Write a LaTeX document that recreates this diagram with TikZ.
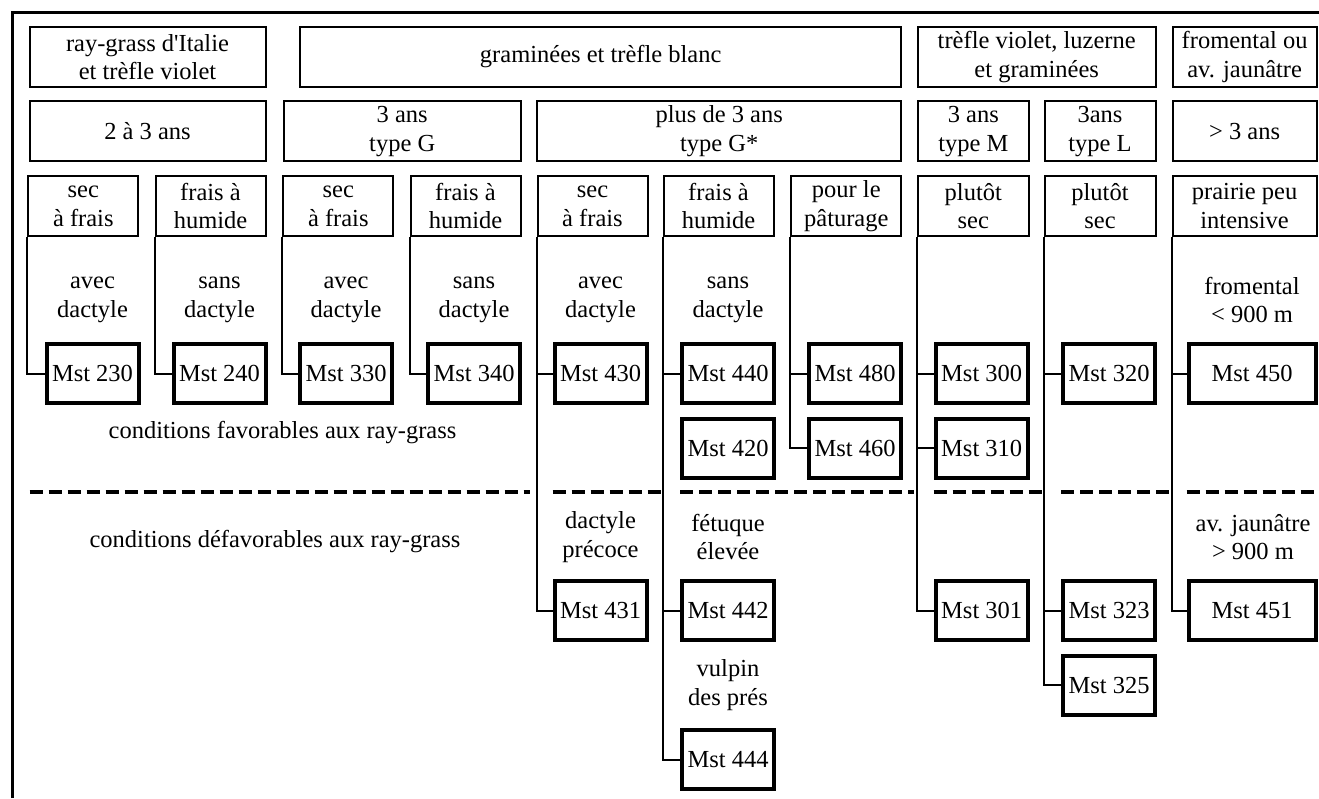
\documentclass[tikz,border=0pt]{standalone}
\usepackage{fontspec}
\setmainfont{Liberation Serif}
\begin{document}
\begin{tikzpicture}[x=1pt,y=-1pt,
  every node/.style={font=\fontsize{24.5}{28.5}\selectfont,align=center,inner sep=0pt},
  cat/.style={draw,line width=2pt,minimum height=60pt},
  sub/.style={cat,minimum width=110pt},
  mst/.style={draw,line width=4pt,minimum width=92pt,minimum height=59pt},
  link/.style={line width=2pt},
  cut/.style={line width=4pt,dash pattern=on 13pt off 6pt}]
\useasboundingbox (0,0) rectangle (1319,798);
\draw[line width=2.5pt] (12.5,798) -- (12.5,12.5) -- (1319,12.5);
\node[cat,minimum width=236pt] (rg) at (147.5,57) {ray-grass d\textquotesingle Italie\\et trèfle violet};
\node[cat,minimum width=601pt] (gt) at (600.7,57) {graminées et trèfle blanc};
\node[cat,minimum width=238pt] (tv) at (1036.7,57) {trèfle violet, luzerne\\et graminées};
\node[cat,minimum width=144pt] (fo) at (1244.6,57) {fromental ou\\av. jaunâtre};
\node[cat,minimum width=236pt] (a2) at (147.5,131.3) {2 à 3 ans};
\node[cat,minimum width=237pt] (a3) at (402.2,131.3) {3 ans\\type G};
\node[cat,minimum width=364pt] (a4) at (719.2,131.3) {plus de 3 ans\\type G*};
\node[cat,minimum width=111pt] (am) at (973.3,131.3) {3 ans\\type M};
\node[cat,minimum width=111pt] (al) at (1100,131.3) {3ans\\type L};
\node[cat,minimum width=144pt] (a5) at (1244.6,131.3) {> 3 ans};
\node[sub] (s1) at (83.3,206.2) {sec\\à frais};
\node[sub] (h1) at (210.5,206.2) {frais à\\humide};
\node[sub] (s2) at (338.3,206.2) {sec\\à frais};
\node[sub] (h2) at (465.5,206.2) {frais à\\humide};
\node[sub] (s3) at (592.5,206.2) {sec\\à frais};
\node[sub] (h3) at (718.5,206.2) {frais à\\humide};
\node[sub] (pa) at (846.3,206.2) {pour le\\pâturage};
\node[sub,minimum width=111pt] (d1) at (973.3,206.2) {plutôt\\sec};
\node[sub,minimum width=111pt] (d2) at (1100,206.2) {plutôt\\sec};
\node[sub,minimum width=144pt] (pi) at (1244.6,206.2) {prairie peu\\intensive};
\node (t1) at (92.5,300) {avec\\dactyle};
\node (t2) at (219.5,300) {sans\\dactyle};
\node (t3) at (346,300) {avec\\dactyle};
\node (t4) at (474,300) {sans\\dactyle};
\node (t5) at (600.5,300) {avec\\dactyle};
\node (t6) at (728,300) {sans\\dactyle};
\node (t7) at (1252,300) {fromental\\< 900 m};
\node[mst] (m230) at (92.5,373.5) {Mst 230};
\node[mst] (m240) at (219.5,373.5) {Mst 240};
\node[mst] (m330) at (346,373.5) {Mst 330};
\node[mst] (m340) at (474,373.5) {Mst 340};
\node[mst] (m430) at (600.5,373.5) {Mst 430};
\node[mst] (m440) at (728,373.5) {Mst 440};
\node[mst] (m480) at (855,373.5) {Mst 480};
\node[mst] (m300) at (981.7,373.5) {Mst 300};
\node[mst] (m320) at (1109,373.5) {Mst 320};
\node[mst,minimum width=127pt] (m450) at (1252,373.5) {Mst 450};
\node[mst] (m420) at (728,448.3) {Mst 420};
\node[mst] (m460) at (855,448.3) {Mst 460};
\node[mst] (m310) at (981.7,448.3) {Mst 310};
\node (fav) at (282.5,433) {conditions favorables aux ray-grass};
\node (def) at (275,541.7) {conditions défavorables aux ray-grass};
\node (t8) at (600.5,537) {dactyle\\précoce};
\node (t9) at (728,537) {fétuque\\élevée};
\node (t10) at (1253,537) {av. jaunâtre\\> 900 m};
\node[mst] (m431) at (600.5,610.5) {Mst 431};
\node[mst] (m442) at (728,610.5) {Mst 442};
\node[mst] (m301) at (981.7,610.5) {Mst 301};
\node[mst] (m323) at (1109,610.5) {Mst 323};
\node[mst,minimum width=127pt] (m451) at (1252,610.5) {Mst 451};
\node[mst] (m325) at (1109,685.3) {Mst 325};
\node (t11) at (728,685) {vulpin\\des prés};
\node[mst] (m444) at (728,759.7) {Mst 444};
\draw[link] (s1.south west) |- (m230.west);
\draw[link] (h1.south west) |- (m240.west);
\draw[link] (s2.south west) |- (m330.west);
\draw[link] (h2.south west) |- (m340.west);
\draw[link] (s3.south west) |- (m431.west) (s3.south west |- m430.west) -- (m430.west);
\draw[link] (h3.south west) |- (m444.west) (h3.south west |- m440.west) -- (m440.west)
  (h3.south west |- m442.west) -- (m442.west);
\draw[link] (pa.south west) |- (m460.west) (pa.south west |- m480.west) -- (m480.west);
\draw[link] (d1.south west) |- (m301.west) (d1.south west |- m300.west) -- (m300.west)
  (d1.south west |- m310.west) -- (m310.west);
\draw[link] (d2.south west) |- (m325.west) (d2.south west |- m320.west) -- (m320.west)
  (d2.south west |- m323.west) -- (m323.west);
\draw[link] (pi.south west) |- (m451.west) (pi.south west |- m450.west) -- (m450.west);
\coordinate (dl) at (0,492);
\draw[cut] ([xshift=2.4pt]dl -| s1.south west) -- ([xshift=-7pt]dl -| s3.south west);
\draw[cut] (dl -| m431.west) -- (dl -| h3.south west);
\draw[cut] (dl -| m442.west) -- ([xshift=-3pt]dl -| d1.south west);
\draw[cut] (dl -| m301.west) -- (dl -| d2.south west);
\draw[cut] (dl -| m323.west) -- (dl -| pi.south west);
\draw[cut] (dl -| m451.west) -- (dl -| pi.south east);
\end{tikzpicture}
\end{document}
